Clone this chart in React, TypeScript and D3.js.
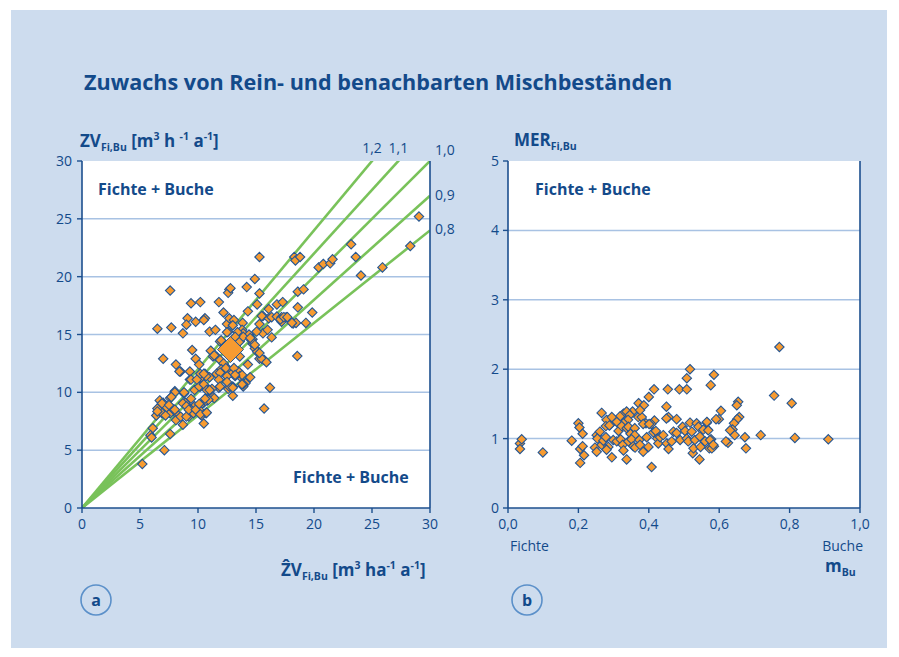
import React from "react";
import * as d3 from "d3";

// ---------- data ----------
const title = "Zuwachs von Rein- und benachbarten Mischbeständen";

// panel a: observed vs. predicted increment (x = predicted ẐV, y = observed ZV)
const zvPoints: [number, number][] = [
  [15.3,21.7],[18.3,21.7],[18.4,21.4],[18.8,21.7],[23.2,22.8],[28.3,22.65],[23.6,21.7],[24.05,20.1],[25.9,20.8],[20.4,20.8],
  [20.8,21.1],[21.4,21.15],[21.6,21.5],[14.9,19.8],[14.2,19.1],[15.3,18.55],[12.7,18.9],[12.6,18.6],[7.6,18.8],[9.4,17.7],
  [10.2,17.8],[11.8,17.8],[15.1,17.6],[18.6,18.7],[19.1,18.9],[16.8,17.6],[17.3,17.8],[16.1,17.2],[18.6,17.35],[19.85,16.9],
  [14.3,17.0],[12.2,16.9],[9.1,16.4],[9.0,15.85],[9.8,16.1],[10.6,16.4],[10.5,16.25],[6.5,15.5],[7.7,15.6],[8.7,15.1],
  [11.0,15.25],[11.5,15.4],[12.5,15.9],[12.7,16.4],[13.1,16.25],[13.0,15.8],[12.6,15.25],[13.85,16.0],[13.8,15.4],[15.6,16.6],
  [16.1,16.4],[16.35,16.5],[16.8,16.55],[17.2,16.5],[17.6,16.5],[17.2,16.1],[18.2,15.95],[18.45,16.0],[19.3,16.0],[15.3,15.9],
  [15.6,15.1],[16.0,15.4],[16.35,14.75],[15.05,15.25],[9.5,13.66],[7.0,12.9],[9.8,12.9],[10.1,12.4],[8.1,12.4],[8.5,11.8],
  [18.56,13.14],[16.2,10.4],[29.05,25.2],
  [11.9,14.4],[13.9,15.1],[13.6,14.6],[14.4,15.0],[14.7,14.6],[14.7,14.2],[14.9,13.8],[15.1,13.5],[15.3,12.9],[15.7,12.8],
  [12.5,15.2],[13.4,15.2],[9.3,11.8],
  [11.1,13.6],[11.3,13.1],[11.6,13.1],[11.9,12.8],[12.2,12.5],[12.6,12.0],[12.0,12.0],[11.6,11.6],[12.5,11.6],[13.0,11.7],
  [13.5,11.8],[13.6,11.4],[14.3,12.4],[14.5,11.3],[14.1,10.8],[13.9,10.5],[13.0,10.5],[12.6,10.3],[11.8,10.4],[11.2,10.3],
  [9.3,11.1],[9.7,10.2],[10.2,10.5],[10.3,11.3],[10.6,11.6],[11.0,11.3],[10.9,10.2],[11.3,9.6],[10.8,9.3],[11.4,9.5],
  [10.5,9.1],[10.2,8.9],[9.7,8.8],[9.3,8.6],[8.9,9.1],[8.8,9.9],[8.0,10.1],[7.6,9.5],[7.0,9.1],[6.7,9.3],
  [6.5,8.6],[6.4,8.0],[6.9,8.2],[7.3,8.7],[7.6,8.2],[7.9,8.5],[8.3,8.0],[8.1,7.6],[8.7,7.2],[8.5,7.9],
  [9.2,7.9],[9.6,8.2],[10.3,8.0],[10.7,8.2],[10.5,7.3],[10.1,8.5],[13.0,9.7],[15.7,8.6],[6.1,6.9],[5.9,6.3],[7.6,6.4],
  [12.0,14.5],[11.4,13.2],[13.3,14.5],[13.6,14.4],[13.9,14.8],[14.6,14.5],[14.9,14.1],[15.5,12.9],[15.9,12.6],[10.2,11.6],
  [10.7,11.4],[13.8,11.5],[13.2,11.4],[12.5,11.4],[11.9,11.7],[12.4,12.1],[13.1,12.1],[11.8,11.1],[12.7,10.5],[13.9,10.7],
  [5.2,3.8],[7.1,5.0],[6.0,6.1],[6.5,8.35],[7.2,8.0],[8.0,8.5],[6.9,9.05],[7.5,8.9],[8.0,10.0],[7.7,9.6],
  [8.8,10.0],[8.7,9.05],[9.0,8.8],[9.0,7.9],[9.4,9.45],[9.2,8.5],[9.8,8.5],[10.1,9.0],[10.2,8.1],[10.75,8.25],
  [10.1,10.5],[10.5,10.7],[10.75,10.2],[10.9,9.35],[10.6,9.45],[11.0,10.2],[9.4,11.1],[9.9,11.1],[8.4,11.8],[10.5,11.6],
  [11.9,10.5],[12.5,10.9],[13.0,10.4],[13.2,11.5],[13.8,10.7],
  [12.8,19.0],[15.5,16.6],[17.1,16.3],[17.4,16.5],[17.7,16.5],[18.1,16.0],[14.5,14.7],[15.3,13.4],[13.6,13.1],[13.2,14.8],
];
const zvMean: [number, number] = [12.8, 13.7];

const ratioLines = [0.8, 0.9, 1.0, 1.1, 1.2];
const ratioLabels = ["0,8", "0,9", "1,0", "1,1", "1,2"];

const zvTicks = [0, 5, 10, 15, 20, 25, 30];

// panel b: mixing effect ratio vs. beech share
const merPoints: [number, number][] = [
  [0.771,2.32],[0.517,2.0],[0.508,1.87],[0.585,1.92],[0.576,1.77],[0.415,1.71],[0.454,1.71],[0.487,1.71],[0.508,1.71],[0.40,1.60],
  [0.371,1.51],[0.386,1.48],[0.756,1.62],[0.806,1.51],[0.654,1.53],[0.65,1.48],[0.605,1.40],[0.657,1.31],[0.651,1.28],[0.599,1.28],
  [0.642,1.22],[0.638,1.13],[0.644,1.05],[0.673,1.02],[0.676,0.86],[0.718,1.05],[0.815,1.01],[0.91,0.99],[0.625,0.94],[0.565,1.23],
  [0.567,1.13],[0.577,0.99],[0.572,0.86],[0.585,0.89],[0.45,1.46],[0.456,1.31],[0.45,1.29],[0.479,1.28],[0.416,1.26],[0.407,1.21],
  [0.392,1.22],[0.354,1.39],[0.37,1.31],[0.38,1.31],[0.375,1.41],[0.328,1.36],[0.337,1.39],[0.318,1.32],[0.346,1.34],[0.341,1.27],
  [0.328,1.22],[0.309,1.24],[0.29,1.20],[0.28,1.27],[0.266,1.37],[0.295,1.31],[0.2,1.22],[0.203,1.16],[0.212,1.07],[0.181,0.97],
  [0.205,0.85],[0.212,0.89],[0.216,0.76],[0.205,0.65],[0.099,0.80],[0.034,0.93],[0.039,0.99],[0.034,0.85],[0.408,0.59],
  [0.278,1.18],[0.288,1.19],[0.314,1.11],[0.323,1.18],[0.337,1.15],[0.342,1.17],[0.348,1.07],[0.36,1.15],[0.36,1.05],[0.384,1.21],
  [0.401,1.21],[0.252,1.05],[0.261,1.10],[0.254,1.00],[0.247,0.87],[0.252,0.81],[0.266,0.91],[0.271,0.97],[0.278,1.02],[0.285,0.88],
  [0.28,0.84],[0.295,0.73],[0.299,0.98],[0.309,0.96],[0.32,0.99],[0.326,0.91],[0.328,0.83],[0.337,0.70],[0.342,0.96],[0.351,0.99],
  [0.356,0.89],[0.361,0.87],[0.373,0.98],[0.375,0.91],[0.384,0.81],[0.394,1.02],[0.399,0.88],[0.413,1.09],[0.42,1.11],[0.424,1.00],
  [0.427,0.93],[0.432,1.02],[0.441,1.05],[0.451,0.93],[0.456,0.85],[0.465,0.96],[0.47,1.10],[0.479,1.08],[0.489,0.98],[0.496,1.17],
  [0.503,1.11],[0.508,1.00],[0.512,0.96],[0.517,1.23],[0.522,1.10],[0.525,0.79],[0.527,0.86],[0.531,0.98],[0.536,1.22],[0.541,1.17],
  [0.544,0.70],[0.545,1.03],[0.547,0.88],[0.555,1.13],[0.56,0.96],[0.565,1.24],[0.569,1.12],[0.574,0.98],[0.579,0.86],[0.583,0.91],
  [0.591,1.28],[0.619,0.96],[0.631,1.12],
];
const merXTicks = [0, 0.2, 0.4, 0.6, 0.8, 1.0];
const merYTicks = [0, 1, 2, 3, 4, 5];

// ---------- style ----------
const FONT = "'Open Sans', 'Noto Sans', sans-serif";
const DARK = "#134a8a";
const AXIS = "#1c4f8e";
const GRID = "#a8c2e3";
const BG = "#cddcee";
const GREEN = "#79c25a";
const ORANGE = "#f79b31";
const MSTROKE = "#245694";

function diamond(cx: number, cy: number, r: number) {
  return `M${cx},${cy - r}L${cx + r},${cy}L${cx},${cy + r}L${cx - r},${cy}Z`;
}

export default function App() {
  const ax = d3.scaleLinear().domain([0, 30]).range([82, 430]);
  const ay = d3.scaleLinear().domain([0, 30]).range([508, 161]);
  const bx = d3.scaleLinear().domain([0, 1]).range([508, 860]);
  const by = d3.scaleLinear().domain([0, 5]).range([508, 161]);
  const fmtComma = (v: number) => d3.format(".1f")(v).replace(".", ",");

  const lineGen = d3
    .line<[number, number]>()
    .x((d) => ax(d[0]))
    .y((d) => ay(d[1]));

  const tickLen = 5;
  const tickFont = 14;

  return (
    <div style={{ position: "absolute", left: 0, top: 0 }}>
      <svg width={899} height={657} style={{ display: "block", fontFamily: FONT }}>
        <rect x={0} y={0} width={899} height={657} fill="#ffffff" />
        <rect x={11} y={10} width={876} height={638} fill={BG} />
        <text x={84} y={90} fontSize={21.6} fontWeight={700} fill={DARK}>
          {title}
        </text>

        {/* ---------------- panel a ---------------- */}
        <defs>
          <clipPath id="clipA">
            <rect x={ax(0)} y={ay(30)} width={ax(30) - ax(0)} height={ay(0) - ay(30)} />
          </clipPath>
        </defs>
        <rect x={ax(0)} y={ay(30)} width={ax(30) - ax(0)} height={ay(0) - ay(30)} fill="#fff" />
        {zvTicks.slice(1, -1).map((t) => (
          <line key={"ga" + t} x1={ax(0)} x2={ax(30)} y1={ay(t)} y2={ay(t)} stroke={GRID} strokeWidth={1.5} />
        ))}
        <g clipPath="url(#clipA)">
          {ratioLines.map((k) => (
            <path
              key={"r" + k}
              d={lineGen([[0, 0], [30, 30 * k]]) as string}
              stroke={GREEN}
              strokeWidth={2.6}
              fill="none"
            />
          ))}
        </g>
        {ratioLines.map((k, i) => {
          const xEnd = Math.min(30, 30 / k);
          const yEnd = Math.min(30, 30 * k);
          const atTop = k > 1;
          const lx = atTop ? ax(xEnd) : ax(30) + 5;
          const ly = atTop ? ay(30) - 8 : ay(yEnd) + 4;
          return (
            <text
              key={"rl" + k}
              x={k === 1 ? ax(30) + 5 : lx}
              y={k === 1 ? ay(30) - 6 : ly}
              fontSize={14}
              fill={DARK}
              textAnchor={atTop ? "middle" : "start"}
            >
              {ratioLabels[i]}
            </text>
          );
        })}
        {zvPoints.map((p, i) => (
          <path key={"pa" + i} d={diamond(ax(p[0]), ay(p[1]), 4.7)} fill={ORANGE} stroke={MSTROKE} strokeWidth={1.1} />
        ))}
        <path d={diamond(ax(zvMean[0]), ay(zvMean[1]), 13)} fill={ORANGE} stroke={MSTROKE} strokeWidth={1} />

        {/* axes a */}
        <line x1={ax(0)} x2={ax(0)} y1={ay(0)} y2={ay(30)} stroke={AXIS} strokeWidth={1.6} />
        <line x1={ax(30)} x2={ax(30)} y1={ay(0)} y2={ay(30)} stroke={AXIS} strokeWidth={1.6} />
        <line x1={ax(0)} x2={ax(30)} y1={ay(0)} y2={ay(0)} stroke={AXIS} strokeWidth={1.6} />
        {zvTicks.map((t) => (
          <g key={"ta" + t}>
            <line x1={ax(0) - tickLen} x2={ax(0)} y1={ay(t)} y2={ay(t)} stroke={AXIS} strokeWidth={1.4} />
            <text x={ax(0) - 10} y={ay(t) + 5} fontSize={tickFont} fill={DARK} textAnchor="end">
              {t}
            </text>
            <line x1={ax(t)} x2={ax(t)} y1={ay(0)} y2={ay(0) + tickLen} stroke={AXIS} strokeWidth={1.4} />
            <text x={ax(t)} y={529} fontSize={tickFont} fill={DARK} textAnchor="middle">
              {t}
            </text>
          </g>
        ))}
        <text x={80} y={147} fontSize={17} fontWeight={700} fill={DARK}>
          ZV
          <tspan fontSize={10.5} dy={4}>Fi,Bu</tspan>
          <tspan fontSize={17} dy={-4}> [m</tspan>
          <tspan fontSize={10.5} dy={-7}>3</tspan>
          <tspan fontSize={17} dy={7}> h </tspan>
          <tspan fontSize={10.5} dy={-7}>-1</tspan>
          <tspan fontSize={17} dy={7}> a</tspan>
          <tspan fontSize={10.5} dy={-7}>-1</tspan>
          <tspan fontSize={17} dy={7}>]</tspan>
        </text>
        <text x={281} y={576} fontSize={17} fontWeight={700} fill={DARK}>
          ẐV
          <tspan fontSize={10.5} dy={4}>Fi,Bu</tspan>
          <tspan fontSize={17} dy={-4}> [m</tspan>
          <tspan fontSize={10.5} dy={-7}>3</tspan>
          <tspan fontSize={17} dy={7}> ha</tspan>
          <tspan fontSize={10.5} dy={-7}>-1</tspan>
          <tspan fontSize={17} dy={7}> a</tspan>
          <tspan fontSize={10.5} dy={-7}>-1</tspan>
          <tspan fontSize={17} dy={7}>]</tspan>
        </text>
        <text x={98} y={195} fontSize={16} fontWeight={700} fill={DARK}>Fichte + Buche</text>
        <text x={293} y={483} fontSize={16} fontWeight={700} fill={DARK}>Fichte + Buche</text>

        <circle cx={96} cy={600} r={15} fill="none" stroke="#5b90c9" strokeWidth={1.6} />
        <text x={96} y={606} fontSize={16} fontWeight={700} fill={DARK} textAnchor="middle">a</text>

        {/* ---------------- panel b ---------------- */}
        <rect x={bx(0)} y={by(5)} width={bx(1) - bx(0)} height={by(0) - by(5)} fill="#fff" />
        {merYTicks.slice(1, -1).map((t) => (
          <line key={"gb" + t} x1={bx(0)} x2={bx(1)} y1={by(t)} y2={by(t)} stroke={GRID} strokeWidth={1.5} />
        ))}
        {merPoints.map((p, i) => (
          <path key={"pb" + i} d={diamond(bx(p[0]), by(p[1]), 4.7)} fill={ORANGE} stroke={MSTROKE} strokeWidth={1.1} />
        ))}
        <line x1={bx(0)} x2={bx(0)} y1={by(0)} y2={by(5)} stroke={AXIS} strokeWidth={1.6} />
        <line x1={bx(1)} x2={bx(1)} y1={by(0)} y2={by(5)} stroke={AXIS} strokeWidth={1.6} />
        <line x1={bx(0)} x2={bx(1)} y1={by(0)} y2={by(0)} stroke={AXIS} strokeWidth={1.6} />
        {merYTicks.map((t) => (
          <g key={"tby" + t}>
            <line x1={bx(0) - tickLen} x2={bx(0)} y1={by(t)} y2={by(t)} stroke={AXIS} strokeWidth={1.4} />
            <text x={bx(0) - 9} y={by(t) + 5} fontSize={tickFont} fill={DARK} textAnchor="end">
              {t}
            </text>
          </g>
        ))}
        {merXTicks.map((t) => (
          <g key={"tbx" + t}>
            <line x1={bx(t)} x2={bx(t)} y1={by(0)} y2={by(0) + tickLen} stroke={AXIS} strokeWidth={1.4} />
            <text x={bx(t)} y={529} fontSize={tickFont} fill={DARK} textAnchor="middle">
              {fmtComma(t)}
            </text>
          </g>
        ))}
        <text x={514} y={146} fontSize={17} fontWeight={700} fill={DARK}>
          MER
          <tspan fontSize={10.5} dy={4}>Fi,Bu</tspan>
        </text>
        <text x={535} y={195} fontSize={16} fontWeight={700} fill={DARK}>Fichte + Buche</text>
        <text x={510} y={551} fontSize={14} fill={DARK}>Fichte</text>
        <text x={863} y={551} fontSize={14} fill={DARK} textAnchor="end">Buche</text>
        <text x={825} y={572} fontSize={17} fontWeight={700} fill={DARK}>
          m<tspan fontSize={10.5} dy={4}>Bu</tspan>
        </text>

        <circle cx={527} cy={600} r={15} fill="none" stroke="#5b90c9" strokeWidth={1.6} />
        <text x={527} y={606} fontSize={16} fontWeight={700} fill={DARK} textAnchor="middle">b</text>
      </svg>
    </div>
  );
}
